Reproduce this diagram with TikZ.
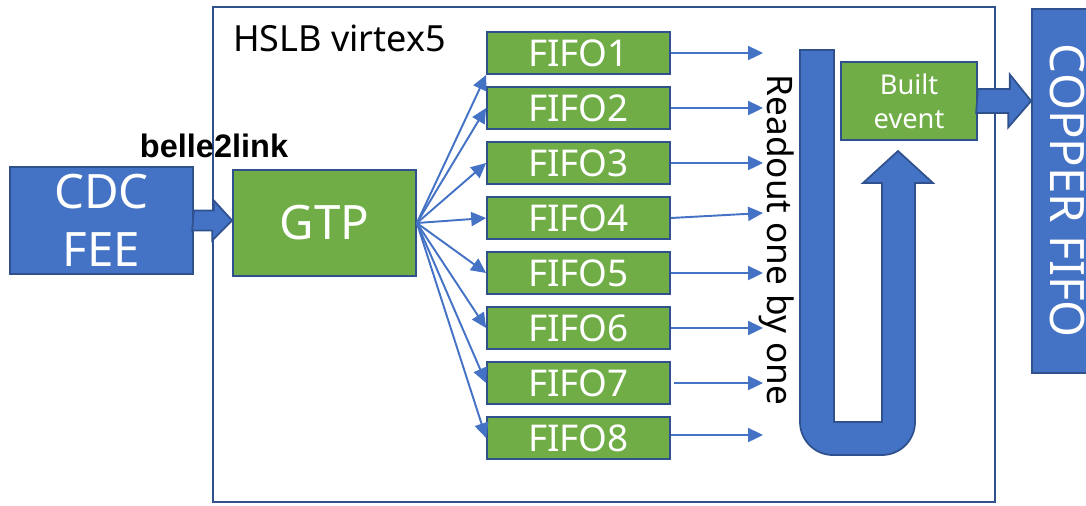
\documentclass[tikz,border=0pt]{standalone}
\usepackage{fontspec}
\setmainfont{Noto Sans}
\newfontfamily\linkfont{Liberation Sans}
\usetikzlibrary{arrows.meta}
\definecolor{boxblue}{HTML}{4472C4}
\definecolor{edgeblue}{HTML}{2F528F}
\definecolor{boxgreen}{HTML}{70AD47}

\begin{document}
\begin{tikzpicture}[
    x=0.02cm, y=-0.02cm,
    frame/.style={rectangle, draw=edgeblue, line width=1pt, minimum width=15.64cm, minimum height=9.9cm},
    bluebox/.style={rectangle, draw=edgeblue, line width=1pt, fill=boxblue, text=white, inner sep=0pt, align=center},
    greenbox/.style={rectangle, draw=edgeblue, line width=1pt, fill=boxgreen, text=white, inner sep=0pt, align=center},
    fifo/.style={greenbox, minimum width=3.66cm, minimum height=0.84cm, font=\fontsize{21}{25}\selectfont},
    bigarrow/.style={draw=edgeblue, line width=1pt, fill=boxblue},
    link/.style={->, draw=boxblue, line width=1.1pt},
    >={Triangle[length=8.5pt,width=8pt]}
]
\useasboundingbox (0,0) rectangle (1086,505);
\clip (0,0) rectangle (1086,505);

% HSLB Rahmen
\node[frame] at (604,254.5) (hslb) {};
\node[anchor=base west, font=\fontsize{20.5}{24}\selectfont] at (227,51) (hslbtitle) {HSLB virtex5};

% Frontend und GTP
\node[bluebox, minimum width=3.66cm, minimum height=2.14cm, font=\fontsize{27}{33}\selectfont] at (101.5,220.5) (cdc) {CDC\\FEE};
\node[greenbox, minimum width=3.66cm, minimum height=2.12cm, font=\fontsize{27}{32}\selectfont] at (324.5,223) (gtp) {GTP};
\node[font=\linkfont\fontsize{18.5}{22}\selectfont\bfseries] at (214,146) (linklabel) {belle2link};
\draw[bigarrow] (cdc.east) ++(0,-10) -- ++(20,0) -- ++(0,-10) -- (cdc.east -| gtp.west) -- ++(-20,20) -- ++(0,-10) -- ++(-20,0) -- cycle;

% FIFOs
\node[fifo] at (578.5,53) (fifo1) {FIFO1};
\node[fifo] at (578.5,108) (fifo2) {FIFO2};
\node[fifo] at (578.5,163) (fifo3) {FIFO3};
\node[fifo] at (578.5,218) (fifo4) {FIFO4};
\node[fifo] at (578.5,273) (fifo5) {FIFO5};
\node[fifo] at (578.5,328) (fifo6) {FIFO6};
\node[fifo] at (578.5,383) (fifo7) {FIFO7};
\node[fifo] at (578.5,438) (fifo8) {FIFO8};

% GTP -> FIFOs
\draw[link] (gtp.east) -- (fifo1.south west);
\draw[link] (gtp.east) -- (fifo2.west);
\draw[link] (gtp.east) -- (fifo3.west);
\draw[link] (gtp.east) -- (fifo4.west);
\draw[link] (gtp.east) -- (fifo5.west);
\draw[link] (gtp.east) -- (fifo6.west);
\draw[link] (gtp.east) -- (fifo7.west);
\draw[link] (gtp.east) -- (fifo8.west);

% Auslesepfeile
\coordinate (rd1) at (763,53);
\coordinate (rd2) at (763,108);
\coordinate (rd3) at (763,163);
\coordinate (rd4) at (763,213);
\coordinate (rd5) at (763,273);
\coordinate (rd6) at (763,328);
\coordinate (rd7) at (763,383);
\coordinate (rd8) at (763,435);
\draw[link] (fifo1.east) -- (rd1);
\draw[link] (fifo2.east) -- (rd2);
\draw[link] (fifo3.east) -- (rd3);
\draw[link] (fifo4.east) -- (rd4);
\draw[link] (fifo5.east) -- (rd5);
\draw[link] (fifo6.east) -- (rd6);
\draw[link] (fifo7.east) ++(3,0) -- (rd7);
\draw[link] (fifo8.east) ++(0,-3) -- (rd8);
\node[font=\fontsize{20}{24}\selectfont] at (777,240) (readout) {\rotatebox{-90}{Readout one by one}};

% U-Pfeil
\draw[bigarrow] (800,50) -- (834,50) -- (834,422) -- (882,422) -- (882,183) -- (863,183) -- (898,151) -- (933,183) -- (915,183) -- (915,422)
    arc[start angle=0, end angle=-90, radius=0.66cm] -- (833,455)
    arc[start angle=-90, end angle=-180, radius=0.66cm] -- cycle;

% Built event und COPPER
\node[greenbox, minimum width=2.72cm, minimum height=1.56cm, font=\fontsize{15.5}{19.5}\selectfont] at (909,101) (built) {Built\\event};
\node[bluebox, minimum width=1.4cm, minimum height=7.28cm, font=\fontsize{27}{32}\selectfont] at (1067,191) (copper) {\rotatebox{-90}{COPPER FIFO}};
\draw[bigarrow] (built.east) ++(0,-12) -- ++(32,0) -- ++(0,-14.5) -- (built.east -| copper.west) -- ++(-23,26.5) -- ++(0,-14.5) -- ++(-32,0) -- cycle;
\end{tikzpicture}
\end{document}
